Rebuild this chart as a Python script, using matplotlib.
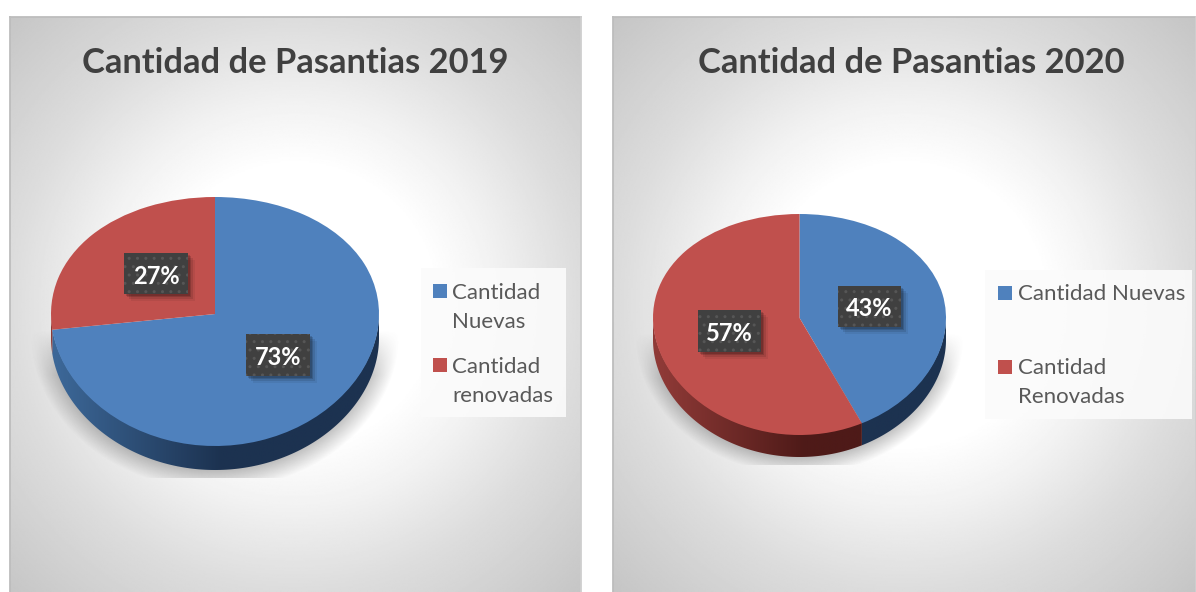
import numpy as np
import matplotlib
matplotlib.use("Agg")
import matplotlib.pyplot as plt
from matplotlib.colors import LinearSegmentedColormap
from matplotlib.patches import Rectangle, Polygon

plt.rcParams['font.family'] = ['Lato', 'DejaVu Sans']

titles = ['Cantidad de Pasantias 2019', 'Cantidad de Pasantias 2020']
labels_2019 = ['Cantidad\nNuevas', 'Cantidad\nrenovadas']
labels_2020 = ['Cantidad Nuevas', 'Cantidad\nRenovadas']
values_2019 = [73, 27]
values_2020 = [43, 57]

BLUE, RED = '#4f81bd', '#c0504d'
GREY = '#595959'
W, H = 1196, 592
TILT = 0.06  # slice corner sits above the middle of the ellipse, like a tilted 3D pie

fig = plt.figure(figsize=(W / 100, H / 100), dpi=100, facecolor='white')

# pixel axes behind the pies and on top of them
back = fig.add_axes([0, 0, 1, 1], zorder=1)
front = fig.add_axes([0, 0, 1, 1], zorder=3)
for a in (back, front):
    a.set_xlim(0, W)
    a.set_ylim(H, 0)
    a.axis('off')
front.patch.set_alpha(0)


def tilt(y):
    return y + TILT * (1 - y ** 2)


def untilt(v):
    return (1 - np.sqrt(np.maximum(1 - 4 * TILT * (v - TILT), 0))) / (2 * TILT)


def panel(x0, x1, y0, y1, cx, cy):
    xx, yy = np.meshgrid(np.linspace(x0, x1, 400), np.linspace(y0, y1, 400))
    d = np.hypot(xx - cx, yy - cy)
    v = np.interp(d, [0, 140, 200, 285, 420], [1, 1, 0.95, 0.865, 0.765])
    back.imshow(v, extent=(x0, x1, y1, y0), cmap='gray', vmin=0, vmax=1,
                aspect='auto', zorder=1)
    back.plot([x0, x0], [y0, y1], color='#bdbdbd', lw=1.3, zorder=2)
    back.plot([x0, x1], [y0, y0], color='#bdbdbd', lw=1.3, zorder=2)
    back.plot([x1, x1], [y0, y1], color='#cfcfcf', lw=1.3, zorder=2)


def cake_shadow(cx, cy, rx, ry, top, bottom):
    xx, yy = np.meshgrid(np.arange(cx - rx - 40, cx + rx + 40), np.arange(top, bottom))
    d = np.hypot((xx - cx) / rx, (yy - cy) / ry)
    a = np.clip((1.09 - d) / 0.14, 0, 1) * 0.4 * np.clip((yy - top) / 45, 0, 1)
    rgba = np.zeros(xx.shape + (4,))
    rgba[..., :3] = 0.35
    rgba[..., 3] = a
    back.imshow(rgba, extent=(xx.min(), xx.max(), bottom, top), aspect='auto', zorder=3)


def wall(cx, cy, rx, ry, depth, theta1, theta2, light, dark):
    # side of the cake for one slice, only the part facing the viewer
    start = theta1 % 360
    if start >= 180:
        lo, hi = start, min(start + theta2 - theta1, 360)
    else:
        lo, hi = 180, min(start + theta2 - theta1, 360)
    if hi <= lo:
        return
    t = np.radians(np.linspace(lo, hi, 160))
    xs = cx + rx * np.cos(t)
    ys = cy - ry * tilt(np.sin(t))
    pts = np.r_[np.c_[xs, ys - 1], np.c_[xs, ys + depth][::-1]]
    poly = Polygon(pts, closed=True, fc='none', ec='none', zorder=4)
    back.add_patch(poly)
    cmap = LinearSegmentedColormap.from_list('w', [light, dark])
    g = np.clip((np.linspace(0, 1, 300) - 0.02) / 0.5, 0, 1)[None, :]
    im = back.imshow(g, extent=(cx - rx, cx + rx, cy + ry + depth, cy - ry), cmap=cmap,
                     aspect='auto', zorder=4, vmin=0, vmax=1)
    im.set_clip_path(poly)


def legend(labels, box, squares, text_x, text_ys):
    x0, y0, x1, y1 = box
    back.add_patch(Rectangle((x0, y0), x1 - x0, y1 - y0, fc='#fbfbfb', ec='none', alpha=0.9, zorder=5))
    for lab, (sx, sy), col, ty in zip(labels, squares, [BLUE, RED], text_ys):
        back.add_patch(Rectangle((sx, sy), 14, 14, fc=col, ec='none', zorder=6))
        back.text(text_x, ty, lab, color=GREY, fontsize=16, va='top', ha='left',
                  linespacing=1.55, zorder=6)


def data_label(txt, x0, y0, x1, y1):
    for off, al in [(7, 0.06), (5, 0.1), (3, 0.14), (1.5, 0.16)]:
        front.add_patch(Rectangle((x0 + off, y0 + off), x1 - x0, y1 - y0, fc='black', ec='none',
                                  alpha=al, zorder=1))
    front.add_patch(Rectangle((x0, y0), x1 - x0, y1 - y0, fc='#404040', ec='#565656', lw=0,
                              hatch='..', zorder=2))
    front.text((x0 + x1) / 2, (y0 + y1) / 2 + 2.5, txt, color='white', fontsize=17, fontweight='bold',
               ha='center', va='center', zorder=3)


def pie_face(values, cx, cy, rx, ry):
    ax = fig.add_axes([(cx - rx) / W, 1 - (cy + ry) / H, 2 * rx / W, 2 * ry / H], zorder=2)
    wedges, _ = ax.pie(values, colors=[BLUE, RED], startangle=90, counterclock=False, radius=1)
    ax.set_aspect('auto')
    ax.set_yscale('function', functions=(tilt, untilt))
    ax.set_xlim(-1, 1)
    ax.set_ylim(-1, 1)
    ax.axis('off')
    for w in wedges:
        w.set_clip_on(False)
    return wedges


panel(10, 581, 17, 592, 295, 305)
panel(613, 1196, 17, 592, 905, 305)

back.text(295, 63, titles[0], color='#404040', fontsize=24.8, fontweight='bold', ha='center', va='center', zorder=6)
back.text(911, 63, titles[1], color='#404040', fontsize=24.8, fontweight='bold', ha='center', va='center', zorder=6)

# 2019
cx, cy, rx, ry, depth = 215, 321.5, 164, 124.5, 24
cake_shadow(cx, cy + 10, rx + 6, ry + 20, 330, 478)
wedges = pie_face(values_2019, cx, cy, rx, ry)
for w, light, dark in zip(wedges, ['#3c6797', '#8f3a37'], ['#1c3250', '#4e1a18']):
    wall(cx, cy, rx, ry, depth, w.theta1, w.theta2, light, dark)
legend(labels_2019, (421, 268, 566, 417), [(433, 284), (433, 358)], 452, [283, 357])
data_label(f'{values_2019[1]}%', 124, 253, 188, 294)
data_label(f'{values_2019[0]}%', 246, 334, 310, 376)

# 2020
cx, cy, rx, ry, depth = 799.5, 324.5, 146.5, 110.5, 22
cake_shadow(cx, cy + 9, rx + 5, ry + 18, 333, 465)
wedges = pie_face(values_2020, cx, cy, rx, ry)
for w, light, dark in zip(wedges, ['#3c6797', '#8f3a37'], ['#1c3250', '#4e1a18']):
    wall(cx, cy, rx, ry, depth, w.theta1, w.theta2, light, dark)
legend(labels_2020, (985, 270, 1192, 419), [(998, 286), (998, 360)], 1018, [284, 358])
data_label(f'{values_2020[0]}%', 838, 286, 901, 327)
data_label(f'{values_2020[1]}%', 698, 310, 761, 352)

fig.savefig('out.png', dpi=100)
